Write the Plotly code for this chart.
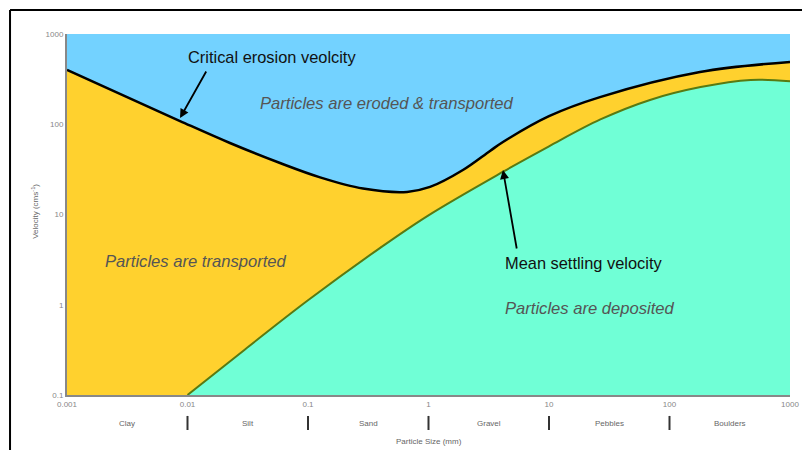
import math
import plotly.graph_objects as go

# Hjulström-style curves: particle size (mm) vs velocity (cm/s)
erosion_size = [0.001, 0.00867, 0.0225, 0.0586, 0.126, 0.286, 0.664, 1.03, 1.93, 3.24, 4.15, 10, 26.5, 179, 1000]
erosion_vel = [400, 108.6, 62, 37.2, 25.8, 19.4, 17.8, 20.2, 31.1, 50.6, 63.6, 123, 200, 379, 490]

settling_size = [0.01, 0.03, 0.1, 0.4, 1.0, 4.2, 10, 26.7, 68.9, 181, 471, 1000]
settling_vel = [0.1, 0.32, 1.12, 4.3, 9.8, 30, 57, 113, 186, 258, 310, 300]

size_ticks = [0.001, 0.01, 0.1, 1, 10, 100, 1000]
size_tick_text = ["0.001", "0.01", "0.1", "1", "10", "100", "1000"]
vel_ticks = [0.1, 1, 10, 100, 1000]
vel_tick_text = ["0.1", "1", "10", "100", "1000"]

classes = ["Clay", "Silt", "Sand", "Gravel", "Pebbles", "Boulders"]
class_bounds = [0.001, 0.01, 0.1, 1, 10, 100, 1000]

BLUE = "#73D2FF"
YELLOW = "#FFD12E"
GREEN = "#70FFD6"
FONT = "Liberation Sans, Arial, sans-serif"
Y_FLOOR = 0.1

fig = go.Figure()

# transport band: from the axis floor up to the erosion curve
fig.add_trace(go.Scatter(x=[erosion_size[0], erosion_size[-1]], y=[Y_FLOOR, Y_FLOOR],
                         mode="lines", line=dict(width=0), hoverinfo="skip", showlegend=False))
fig.add_trace(go.Scatter(x=erosion_size, y=erosion_vel, mode="lines", fill="tonexty",
                         fillcolor=YELLOW, line=dict(color="black", width=2.5, shape="spline"),
                         showlegend=False))

# deposition zone: from the axis floor up to the settling curve
fig.add_trace(go.Scatter(x=[settling_size[0], settling_size[-1]], y=[Y_FLOOR, Y_FLOOR],
                         mode="lines", line=dict(width=0), hoverinfo="skip", showlegend=False))
fig.add_trace(go.Scatter(x=settling_size, y=settling_vel, mode="lines", fill="tonexty",
                         fillcolor=GREEN, line=dict(color="#587A12", width=2, shape="spline"),
                         showlegend=False))

annotations = []


def label(text, x, y, italic=False, size=16.4, color="#111"):
    annotations.append(dict(
        x=x, y=y, xref="x", yref="y", showarrow=False, xanchor="center", yanchor="middle",
        text=f"<i>{text}</i>" if italic else text,
        font=dict(family=FONT, size=size, color=color)))


label("Critical erosion veolcity", -1.299, 2.745)
label("Particles are eroded &amp; transported", -0.344, 2.235, italic=True, size=16.6, color="#555")
label("Particles are transported", -1.929, 0.474, italic=True, size=16.6, color="#555")
label("Mean settling velocity", 1.290, 0.463)
label("Particles are deposited", 1.340, -0.047, italic=True, size=16.6, color="#555")

# pointer arrows onto each curve
annotations.append(dict(x=-2.062, y=2.069, xref="x", yref="y", text="", showarrow=True,
                        arrowhead=2, arrowsize=1, arrowwidth=1.8, arrowcolor="black",
                        ax=27, ay=-48))
annotations.append(dict(x=0.618, y=1.493, xref="x", yref="y", text="", showarrow=True,
                        arrowhead=2, arrowsize=1, arrowwidth=1.8, arrowcolor="black",
                        ax=14, ay=80))

# particle class names along the size axis
for i, name in enumerate(classes):
    mid = (math.log10(class_bounds[i]) + math.log10(class_bounds[i + 1])) / 2
    annotations.append(dict(x=mid, y=-0.0776, xref="x", yref="paper", showarrow=False,
                            xanchor="center", yanchor="middle",
                            text=name, font=dict(family=FONT, size=8, color="#666")))

annotations.append(dict(x=0.5, y=-0.130, xref="paper", yref="paper", showarrow=False,
                        xanchor="center", yanchor="middle",
                        text="Particle Size (mm)", font=dict(family=FONT, size=8, color="#666")))
annotations.append(dict(x=-0.0443, y=0.51, xref="paper", yref="paper", showarrow=False,
                        xanchor="center", yanchor="middle",
                        text="Velocity (cms<sup>-1</sup>)", textangle=-90,
                        font=dict(family=FONT, size=8, color="#666")))

shapes = []
# separators between particle classes
for b in class_bounds[1:-1]:
    shapes.append(dict(type="line", xref="x", yref="paper", x0=b, x1=b, y0=-0.058, y1=-0.097,
                       line=dict(color="#333", width=2)))
# outer frame
shapes.append(dict(type="line", xref="paper", yref="paper", x0=-0.0788, x1=1.02, y0=1.0665, y1=1.0665,
                   line=dict(color="black", width=2)))
shapes.append(dict(type="line", xref="paper", yref="paper", x0=-0.0788, x1=-0.0788, y0=1.0665, y1=-0.2,
                   line=dict(color="black", width=2)))

fig.update_layout(
    width=802, height=450,
    margin=dict(l=67, r=12, t=34, b=55),
    paper_bgcolor="white",
    plot_bgcolor=BLUE,
    font=dict(family=FONT, size=8, color="#777"),
    annotations=annotations,
    shapes=shapes,
    xaxis=dict(type="log", range=[-3, 3], tickvals=size_ticks, ticktext=size_tick_text,
               showgrid=False, zeroline=False, showline=True, linecolor="#888", linewidth=2,
               ticks="", tickfont=dict(size=8, color="#888"), automargin=False),
    yaxis=dict(type="log", range=[-1, 3], tickvals=vel_ticks, ticktext=vel_tick_text,
               showgrid=False, zeroline=False, showline=True, linecolor="#888", linewidth=2,
               ticks="", tickfont=dict(size=8, color="#888"), automargin=False),
)

fig.write_html("out.html")
